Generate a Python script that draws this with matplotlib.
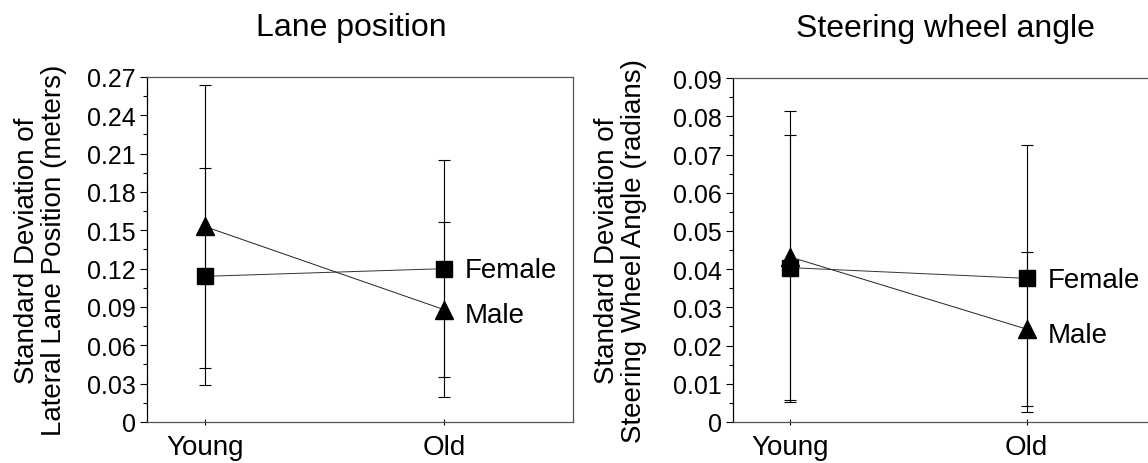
import numpy as np
import matplotlib
matplotlib.use('Agg')
import matplotlib.pyplot as plt

plt.rcParams['font.family'] = ['Liberation Sans', 'DejaVu Sans']

groups = ['Young', 'Old']

# lane position (meters)
lane_female = [0.114, 0.120]
lane_female_err = [0.085, 0.085]
lane_male = [0.153, 0.088]
lane_male_err = [0.111, 0.0685]
lane_ticks = [0, 0.03, 0.06, 0.09, 0.12, 0.15, 0.18, 0.21, 0.24, 0.27]
lane_labels = ['0', '0.03', '0.06', '0.09', '0.12', '0.15', '0.18', '0.21', '0.24', '0.27']

# steering wheel angle (radians)
steer_female = [0.0404, 0.0376]
steer_female_err = [0.0347, 0.035]
steer_male = [0.0432, 0.0243]
steer_male_err = [0.0381, 0.0201]
steer_ticks = [0, 0.01, 0.02, 0.03, 0.04, 0.05, 0.06, 0.07, 0.08, 0.09]
steer_labels = ['0', '0.01', '0.02', '0.03', '0.04', '0.05', '0.06', '0.07', '0.08', '0.09']

fig = plt.figure(figsize=(11.48, 4.64), dpi=100)
ax1 = fig.add_axes([0.128, 0.0884, 0.371, 0.7435])
ax2 = fig.add_axes([0.6385, 0.0884, 0.367, 0.741])


def panel(ax, fem, fem_err, male, male_err, ticks, labels, title, titlex, ylabel, labx):
    x = np.arange(len(groups))
    ax.errorbar(x, fem, yerr=fem_err, fmt='none', ecolor='black', elinewidth=0.8,
                capsize=4, capthick=0.8, zorder=2)
    ax.errorbar(x, male, yerr=male_err, fmt='none', ecolor='black', elinewidth=0.8,
                capsize=4, capthick=0.8, zorder=2)
    ax.plot(x, fem, color='#333333', lw=0.7, zorder=3)
    ax.plot(x, male, color='#222222', lw=0.7, zorder=3)
    ax.plot(x, fem, 's', color='black', ms=12, zorder=4)
    ax.plot(x, male, '^', color='black', ms=13, zorder=4)
    ax.annotate('Female', (x[-1], fem[-1]), xytext=(15, -1), textcoords='offset points',
                va='center', ha='left', fontsize=20)
    ax.annotate('Male', (x[-1], male[-1]), xytext=(15, -4), textcoords='offset points',
                va='center', ha='left', fontsize=20)
    ax.set_xlim(-0.242, 1.54)
    ax.set_ylim(0, ticks[-1])
    ax.set_xticks(x)
    ax.set_xticklabels(groups, fontsize=20)
    ax.set_yticks(ticks)
    ax.set_yticklabels(labels, fontsize=18)
    ax.set_yticks([(ticks[i] + ticks[i + 1]) / 2 for i in range(len(ticks) - 1)], minor=True)
    ax.tick_params(axis='y', which='major', direction='out', length=5, width=0.8, pad=3)
    ax.tick_params(axis='y', which='minor', direction='out', length=3, width=0.8)
    ax.tick_params(axis='x', which='major', direction='inout', length=5, width=0.8, pad=6)
    for s in ax.spines.values():
        s.set_color('#555555')
        s.set_linewidth(0.9)
    ax.spines['left'].set_color('black')
    ax.set_title(title, fontsize=23, pad=30, x=titlex)
    ax.set_ylabel(ylabel, fontsize=20, linespacing=1.05)
    ax.yaxis.set_label_coords(labx, 0.5)


panel(ax1, lane_female, lane_female_err, lane_male, lane_male_err, lane_ticks, lane_labels,
      'Lane position', 0.479, 'Standard Deviation of\nLateral Lane Position (meters)', -0.188)
panel(ax2, steer_female, steer_female_err, steer_male, steer_male_err, steer_ticks, steer_labels,
      'Steering wheel angle', 0.505, 'Standard Deviation of\nSteering Wheel Angle (radians)', -0.204)

fig.savefig('out.png', dpi=100)
